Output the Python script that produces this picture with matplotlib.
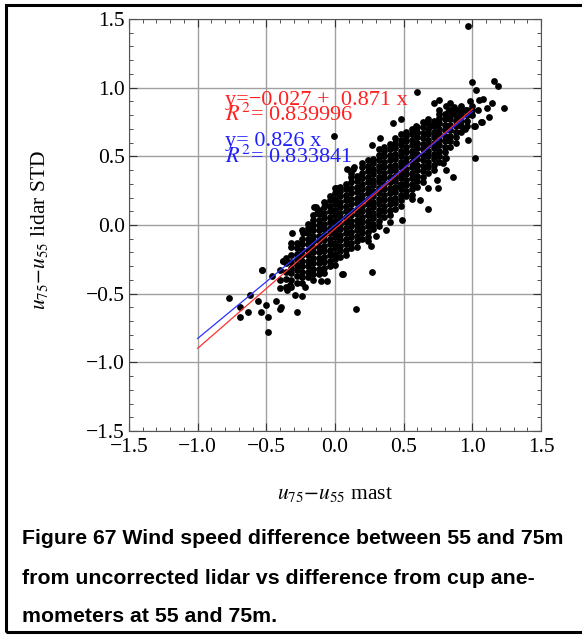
import numpy as np
import matplotlib
matplotlib.use("Agg")
import matplotlib.pyplot as plt
from matplotlib.patches import Rectangle

plt.rcParams['font.family'] = ['Liberation Serif', 'DejaVu Serif']
plt.rcParams['mathtext.fontset'] = 'stix'

# dense core of the cloud, read column by column (x, then the y values seen there)
core_x = [-0.40, -0.36, -0.32, -0.28, -0.24, -0.20, -0.16, -0.12, -0.08, -0.04,
          0.00, 0.04, 0.08, 0.12, 0.16, 0.20, 0.24, 0.28, 0.32, 0.36,
          0.40, 0.44, 0.48, 0.52, 0.56, 0.60, 0.64, 0.68, 0.72, 0.76,
          0.80, 0.84, 0.88, 0.92, 0.96, 1.00]
core_y = [
    [-0.46, -0.40, -0.33],
    [-0.45, -0.39, -0.34, -0.28, -0.24],
    [-0.45, -0.40, -0.35, -0.31, -0.27, -0.22, -0.16],
    [-0.42, -0.37, -0.33, -0.29, -0.25, -0.21, -0.17, -0.13],
    [-0.42, -0.38, -0.34, -0.30, -0.26, -0.22, -0.18, -0.14, -0.10, -0.04],
    [-0.38, -0.34, -0.30, -0.26, -0.22, -0.18, -0.14, -0.10, -0.06, -0.02, 0.01],
    [-0.40, -0.36, -0.32, -0.28, -0.24, -0.20, -0.16, -0.12, -0.08, -0.04, 0.00, 0.04, 0.07],
    [-0.36, -0.32, -0.28, -0.24, -0.20, -0.16, -0.12, -0.08, -0.04, 0.00, 0.04, 0.08, 0.11],
    [-0.35, -0.31, -0.27, -0.23, -0.19, -0.15, -0.11, -0.07, -0.03, 0.01, 0.05, 0.09, 0.13, 0.17],
    [-0.30, -0.26, -0.22, -0.18, -0.14, -0.10, -0.06, -0.02, 0.02, 0.06, 0.10, 0.14, 0.18, 0.21],
    [-0.29, -0.25, -0.21, -0.17, -0.13, -0.09, -0.05, -0.01, 0.03, 0.07, 0.11, 0.15, 0.19, 0.23, 0.27],
    [-0.23, -0.19, -0.15, -0.11, -0.07, -0.03, 0.01, 0.05, 0.09, 0.13, 0.17, 0.21, 0.25, 0.28],
    [-0.22, -0.18, -0.14, -0.10, -0.06, -0.02, 0.02, 0.06, 0.10, 0.14, 0.18, 0.22, 0.26, 0.30],
    [-0.17, -0.13, -0.09, -0.05, -0.01, 0.03, 0.07, 0.11, 0.15, 0.19, 0.23, 0.27, 0.31, 0.35, 0.38],
    [-0.16, -0.12, -0.08, -0.04, 0.00, 0.04, 0.08, 0.12, 0.16, 0.20, 0.24, 0.28, 0.32, 0.36],
    [-0.10, -0.06, -0.02, 0.02, 0.06, 0.10, 0.14, 0.18, 0.22, 0.26, 0.30, 0.34, 0.38, 0.42, 0.45],
    [-0.09, -0.05, -0.01, 0.03, 0.07, 0.11, 0.15, 0.19, 0.23, 0.27, 0.31, 0.35, 0.39, 0.43, 0.47],
    [-0.03, 0.01, 0.05, 0.09, 0.13, 0.17, 0.21, 0.25, 0.29, 0.33, 0.37, 0.41, 0.45, 0.48],
    [-0.01, 0.03, 0.07, 0.11, 0.15, 0.19, 0.23, 0.27, 0.31, 0.35, 0.39, 0.43, 0.47, 0.51, 0.55],
    [0.06, 0.10, 0.14, 0.18, 0.22, 0.26, 0.30, 0.34, 0.38, 0.42, 0.46, 0.50, 0.54, 0.57],
    [0.07, 0.11, 0.15, 0.19, 0.23, 0.27, 0.31, 0.35, 0.39, 0.43, 0.47, 0.51, 0.55, 0.59],
    [0.12, 0.16, 0.20, 0.24, 0.28, 0.32, 0.36, 0.40, 0.44, 0.48, 0.52, 0.56, 0.60, 0.63],
    [0.14, 0.18, 0.22, 0.26, 0.30, 0.34, 0.38, 0.42, 0.46, 0.50, 0.54, 0.58, 0.62, 0.66],
    [0.21, 0.25, 0.29, 0.33, 0.37, 0.41, 0.45, 0.49, 0.53, 0.57, 0.61, 0.65, 0.68],
    [0.22, 0.26, 0.30, 0.34, 0.38, 0.42, 0.46, 0.50, 0.54, 0.58, 0.62, 0.66, 0.70],
    [0.28, 0.32, 0.36, 0.40, 0.44, 0.48, 0.52, 0.56, 0.60, 0.64, 0.68, 0.71],
    [0.31, 0.35, 0.39, 0.43, 0.47, 0.51, 0.55, 0.59, 0.63, 0.67, 0.71, 0.75],
    [0.38, 0.42, 0.46, 0.50, 0.54, 0.58, 0.62, 0.66, 0.70, 0.74, 0.77],
    [0.40, 0.44, 0.48, 0.52, 0.56, 0.60, 0.64, 0.68, 0.72, 0.76],
    [0.46, 0.50, 0.54, 0.58, 0.62, 0.66, 0.70, 0.74, 0.78, 0.81],
    [0.49, 0.53, 0.57, 0.61, 0.65, 0.69, 0.73, 0.77, 0.81],
    [0.57, 0.61, 0.65, 0.69, 0.73, 0.77, 0.81, 0.84],
    [0.60, 0.64, 0.68, 0.72, 0.76, 0.80, 0.84],
    [0.68, 0.72, 0.76, 0.80, 0.84, 0.87],
    [0.72, 0.76, 0.80, 0.84],
    [0.80, 0.84, 0.87],
]

# scattered points round the edge of the cloud
edge_x = [0.97, 1.00, 1.16, 1.19, 0.60, 1.03, 1.08, 1.05, 1.14, 1.23,
          0.72, 0.76, 0.76, 0.81, 0.84, 0.87, 0.90, 0.82, 0.95, 0.98,
          1.04, 1.11, 1.12, 1.06, 1.02, 0.48, 0.42, 0.59, 0.67, 0.69,
          0.74, 0.85, 0.89, -0.01, 0.33, 1.02, 0.97, 0.95, 1.01, 1.07,
          0.43, 0.13, 0.01, -0.14, 0.75, 0.68, 0.81, 0.86, 0.09, 0.14,
          0.68, 0.74, 0.79, 0.81, 0.27, 0.56, 0.47, -0.53, 0.27, 0.05,
          -0.38, -0.32, -0.31, -0.23, -0.15, -0.13, -0.07, 0.37, 0.49, 0.24,
          0.26, -0.77, -0.62, -0.69, -0.63, -0.69, -0.53, -0.49, -0.49, -0.54,
          -0.40, -0.28, 0.15, 0.06, -0.10, -0.06, -0.38, -0.46, -0.24, -0.29,
          -0.22, -0.56, -0.50, -0.43, -0.39, -0.35, -0.33, 0.62, 0.40, 0.30]
edge_y = [1.45, 1.04, 1.05, 1.01, 0.97, 0.98, 0.92, 0.91, 0.89, 0.85,
          0.89, 0.91, 0.84, 0.87, 0.89, 0.86, 0.84, 0.82, 0.84, 0.90,
          0.84, 0.85, 0.79, 0.75, 0.72, 0.77, 0.74, 0.72, 0.75, 0.72,
          0.73, 0.81, 0.79, 0.65, 0.63, 0.49, 0.62, 0.70, 0.72, 0.75,
          0.50, 0.41, 0.27, 0.13, 0.27, 0.27, 0.40, 0.35, 0.41, 0.42,
          0.12, 0.33, 0.45, 0.49, 0.58, 0.19, 0.29, -0.33, -0.34, -0.36,
          -0.26, -0.13, -0.06, -0.06, 0.13, 0.09, 0.15, -0.04, 0.04, -0.12,
          -0.15, -0.53, -0.51, -0.60, -0.63, -0.67, -0.33, -0.78, -0.67, -0.63,
          -0.61, -0.63, -0.61, -0.36, -0.41, -0.41, -0.26, -0.37, -0.52, -0.51,
          -0.45, -0.55, -0.58, -0.55, -0.60, -0.47, -0.44, 0.18, 0.02, -0.08]

# fits
fit_x = [-1.0, 1.0]
red_a, red_b = -0.027, 0.871
blue_b = 0.826

ticks = [-1.5, -1.0, -0.5, 0.0, 0.5, 1.0, 1.5]
tick_labels = ['\u22121.5', '\u22121.0', '\u22120.5', '0.0', '0.5', '1.0', '1.5']

px = []
py = []
for xc, ys in zip(core_x, core_y):
    for yv in ys:
        px.append(xc)
        py.append(yv)
px += edge_x
py += edge_y

fig = plt.figure(figsize=(5.82, 6.35), dpi=100)
ax = fig.add_axes([129 / 582, 1 - 431 / 635, 412 / 582, 412 / 635])

ax.scatter(px, py, s=24, c='black', linewidths=0, zorder=3)

fx = np.array(fit_x)
ax.plot(fx, red_a + red_b * fx, color='#ff3030', lw=0.9, zorder=4)
ax.plot(fx, blue_b * fx, color='#3030ff', lw=0.9, zorder=4)

ax.set_xlim(-1.5, 1.5)
ax.set_ylim(-1.5, 1.5)
ax.set_xticks(ticks)
ax.set_yticks(ticks)
ax.set_xticklabels(tick_labels)
ax.set_yticklabels(tick_labels)
ax.set_xticks(np.arange(-1.5, 1.51, 0.1), minor=True)
ax.set_yticks(np.arange(-1.5, 1.51, 0.1), minor=True)
ax.tick_params(which='both', direction='in', top=True, right=True, color='#333333')
ax.tick_params(which='major', length=6, width=0.8, labelsize=15.5)
ax.tick_params(axis='x', which='major', pad=5)
ax.tick_params(axis='y', which='major', pad=3)
ax.tick_params(which='minor', length=3, width=0.6)
ax.grid(True, which='major', color='#a0a0a0', lw=1.0, zorder=0)
ax.set_axisbelow(True)
for sp in ax.spines.values():
    sp.set_color('#555555')
    sp.set_linewidth(0.8)

ax.text(-0.80, 0.91, 'y=\u22120.027 +  0.871 x', color='#ff2020', fontsize=16, va='center')
ax.text(-0.80, 0.80, '$R^2$= 0.839996', color='#ff2020', fontsize=16, va='center')
ax.text(-0.80, 0.61, 'y= 0.826 x', color='#2020ff', fontsize=16, va='center')
ax.text(-0.80, 0.50, '$R^2$= 0.833841', color='#2020ff', fontsize=16, va='center')

fig.text(335 / 582, 1 - 494 / 635, '$u_{75}{\u2212}u_{55}$ mast', fontsize=15.5,
         ha='center', va='center')
fig.text(40 / 582, 1 - 230 / 635, '$u_{75}{\u2212}u_{55}$ lidar STD', fontsize=15.5,
         ha='center', va='center', rotation=90)

caption = ['Figure 67 Wind speed difference between 55 and 75m',
           'from uncorrected lidar vs difference from cup ane-',
           'mometers at 55 and 75m.']
for i, line in enumerate(caption):
    fig.text(22 / 582, 1 - (539 + 39 * i) / 635, line, fontsize=15.3, fontweight='bold',
             family='Liberation Sans', ha='left', va='center')

# frame round the figure, open on the right
fig.add_artist(Rectangle((6 / 582, 1 - 632 / 635), 1.0, (632 - 5) / 635,
                         transform=fig.transFigure, fill=False, lw=2.2,
                         edgecolor='black', clip_on=False))

fig.savefig('out.png', dpi=100)
